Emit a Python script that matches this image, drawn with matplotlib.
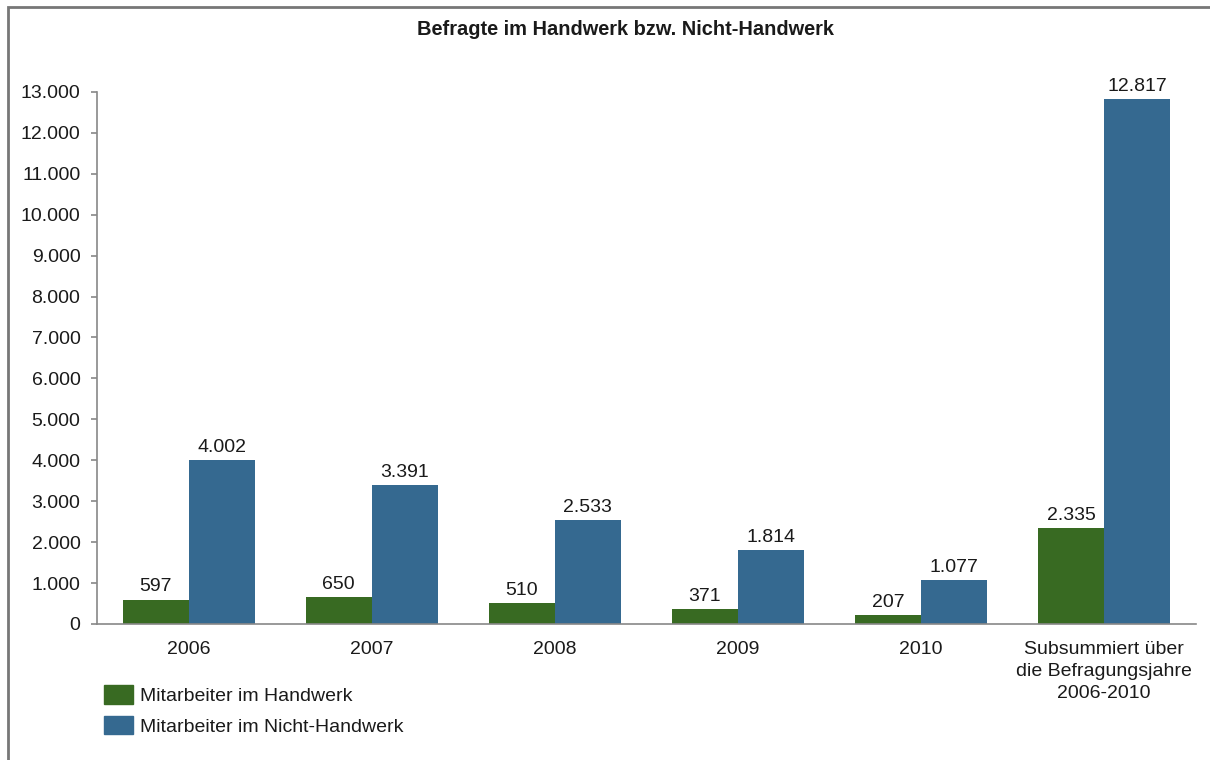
import matplotlib
matplotlib.use("Agg")
import matplotlib.pyplot as plt
from matplotlib.patches import Rectangle, Patch
import numpy as np

plt.rcParams['font.family'] = ['Liberation Sans', 'DejaVu Sans']

# data
categories = ["2006", "2007", "2008", "2009", "2010",
              "Subsummiert über\ndie Befragungsjahre\n2006-2010"]
handwerk = [597, 650, 510, 371, 207, 2335]
nicht_handwerk = [4002, 3391, 2533, 1814, 1077, 12817]
yticks = list(range(0, 13001, 1000))

green = "#386a22"
blue = "#356990"
grey = "#888888"
txt = "#1a1a1a"

def fmt(v):
    return f"{v:,}".replace(",", ".")

fig = plt.figure(figsize=(12.1, 7.6), dpi=100)
ax = fig.add_axes([0.0802, 0.179, 0.908, 0.70])

x = np.arange(len(categories))
w = 0.36
b1 = ax.bar(x - w / 2, handwerk, w, color=green, label="Mitarbeiter im Handwerk")
b2 = ax.bar(x + w / 2, nicht_handwerk, w, color=blue, label="Mitarbeiter im Nicht-Handwerk")

for bars, vals in ((b1, handwerk), (b2, nicht_handwerk)):
    for r, v in zip(bars, vals):
        ax.annotate(fmt(v), (r.get_x() + r.get_width() / 2, v),
                    xytext=(0, 3), textcoords="offset points",
                    ha="center", va="bottom", fontsize=14, color=txt)

ax.set_xlim(-0.5, len(categories) - 0.5)
ax.set_ylim(0, 13000)
ax.set_yticks(yticks)
ax.set_yticklabels([fmt(v) for v in yticks])
ax.set_xticks(x)
ax.set_xticklabels(categories, linespacing=1.38)

for s in ("top", "right"):
    ax.spines[s].set_visible(False)
for s in ("left", "bottom"):
    ax.spines[s].set_color(grey)
    ax.spines[s].set_linewidth(1.2)

ax.tick_params(axis="y", length=4, width=1.2, color=grey, pad=8, labelsize=14, labelcolor=txt)
ax.tick_params(axis="x", length=0, pad=12, labelsize=14, labelcolor=txt)

fig.text(0.517, 0.961, "Befragte im Handwerk bzw. Nicht-Handwerk",
         ha="center", va="center", fontsize=14.4, fontweight="bold", color=txt)

handles = [Patch(color=green), Patch(color=blue)]
fig.legend(handles, ["Mitarbeiter im Handwerk", "Mitarbeiter im Nicht-Handwerk"],
           loc="upper left", bbox_to_anchor=(104 / 1210, 1 - 685 / 760),
           frameon=False, fontsize=14, handlelength=1.5, handleheight=1.1,
           handletextpad=0.35, labelspacing=0.55, borderpad=0, borderaxespad=0,
           labelcolor=txt)

# outer frame (only top and left edges visible in the crop)
fig.patches.append(Rectangle((8 / 1210, -0.1), 1.2, 1 - 7 / 760 + 0.1,
                             transform=fig.transFigure, fill=False,
                             edgecolor="#777777", linewidth=2))

fig.savefig("out.png", dpi=100)
